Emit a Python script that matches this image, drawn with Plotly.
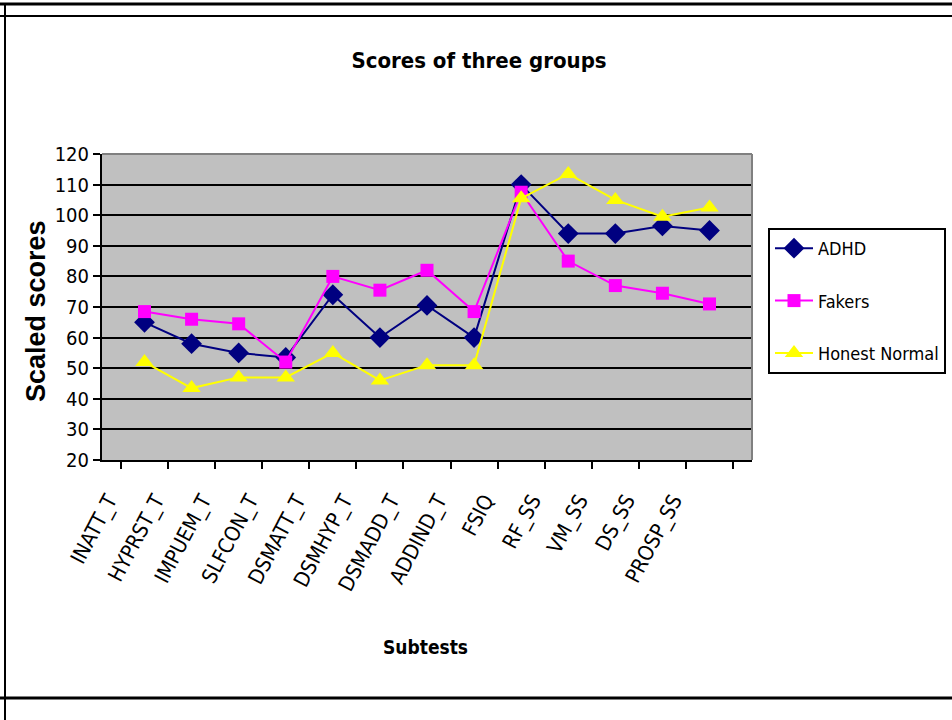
import plotly.graph_objects as go

# Subtest categories and group mean scaled scores
subtests = ["INATT_T", "HYPRST_T", "IMPUEM_T", "SLFCON_T", "DSMATT_T", "DSMHYP_T",
            "DSMADD_T", "ADDIND_T", "FSIQ", "RF_SS", "VM_SS", "DS_SS", "PROSP_SS"]
adhd = [65, 58, 55, 53.5, 74, 60, 70.5, 60, 110, 94, 94, 96.5, 95]
fakers = [68.5, 66, 64.5, 52, 80, 75.5, 82, 68.5, 107.5, 85, 77, 74.5, 71]
honest_normal = [52, 43.5, 47, 47, 55, 46, 51, 51, 105.5, 113.5, 105, 99.5, 102.5]
y_ticks = [20, 30, 40, 50, 60, 70, 80, 90, 100, 110, 120]

NARROW = "DejaVu Sans Condensed, Liberation Sans Narrow, Liberation Sans, Arial, sans-serif"
WIDE = "Liberation Sans, Arial, sans-serif"

W, H = 952, 720
L, R, T, B = 102, 200, 154, 260
PW, PH = W - L - R, H - T - B


def px(x):
    return (x - L) / PW


def py(y):
    return (H - B - y) / PH


fig = go.Figure()

series = [
    ("ADHD", adhd, "#000080", "diamond", 16),
    ("Fakers", fakers, "#FF00FF", "square", 13),
    ("Honest Normal", honest_normal, "#FFFF00", "triangle-up", 16),
]
for name, vals, color, symbol, size in series:
    fig.add_trace(go.Scatter(
        x=subtests, y=vals, name=name, mode="lines+markers",
        line=dict(color=color, width=2),
        marker=dict(symbol=symbol, size=size, color=color, line=dict(width=0)),
        legendgroup=name,
    ))

shapes = [
    # grey edges on top and right of the plot area
    dict(type="line", xref="paper", yref="paper", x0=0, x1=1, y0=1, y1=1,
         line=dict(color="#808080", width=2)),
    dict(type="line", xref="paper", yref="paper", x0=1, x1=1, y0=0, y1=1,
         line=dict(color="#808080", width=2)),
    # outer frame
    dict(type="line", xref="paper", yref="paper", x0=px(0), x1=px(W), y0=py(4), y1=py(4),
         line=dict(color="black", width=3)),
    dict(type="line", xref="paper", yref="paper", x0=px(0), x1=px(W), y0=py(16), y1=py(16),
         line=dict(color="black", width=2)),
    dict(type="line", xref="paper", yref="paper", x0=px(5), x1=px(5), y0=py(3), y1=py(H),
         line=dict(color="black", width=2)),
    dict(type="line", xref="paper", yref="paper", x0=px(0), x1=px(W), y0=py(698), y1=py(698),
         line=dict(color="black", width=3)),
]

annotations = [
    dict(text="<b>Subtests</b>", xref="paper", yref="paper", x=px(425), y=py(647),
         showarrow=False, font=dict(family=NARROW, size=19, color="black"),
         xanchor="center", yanchor="middle"),
    dict(text="<b>Scaled scores</b>", xref="paper", yref="paper", x=px(36), y=py(311),
         showarrow=False, textangle=-90, font=dict(family=WIDE, size=27, color="black"),
         xanchor="center", yanchor="middle"),
]

fig.update_layout(
    width=W, height=H,
    margin=dict(l=L, r=R, t=T, b=B, autoexpand=False),
    paper_bgcolor="white",
    plot_bgcolor="#C0C0C0",
    title=dict(text="<b>Scores of three groups</b>", x=479 / W, xanchor="center",
               y=1 - 60 / H, yanchor="middle",
               font=dict(family=NARROW, size=22, color="black")),
    font=dict(family=NARROW, color="black"),
    shapes=shapes,
    annotations=annotations,
    showlegend=True,
    legend=dict(
        xref="container", yref="container",
        x=768 / W, y=1 - 228 / H, xanchor="left", yanchor="top",
        bgcolor="white", bordercolor="black", borderwidth=2,
        font=dict(family=NARROW, size=18, color="black"),
        traceorder="grouped", tracegroupgap=26, itemwidth=38,
    ),
)

fig.update_xaxes(
    type="category", tickson="boundaries", ticks="outside", ticklen=7,
    tickwidth=1.5, tickcolor="black", showgrid=False,
    showline=True, linecolor="black", linewidth=2,
    tickangle=-62, ticklabelstandoff=18, ticklabelshift=-36,
    tickfont=dict(family=NARROW, size=21, color="black"),
)
fig.update_yaxes(
    range=[20, 120], tickvals=y_ticks, ticks="outside", ticklen=7,
    tickwidth=1.5, tickcolor="black",
    showgrid=True, gridcolor="black", gridwidth=2,
    showline=True, linecolor="black", linewidth=2, zeroline=False,
    tickfont=dict(family=NARROW, size=20, color="black"),
)

fig.write_html("out.html")
